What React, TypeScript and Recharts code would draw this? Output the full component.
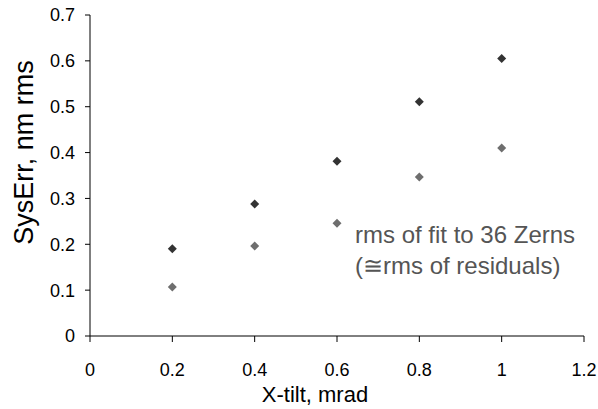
import { ScatterChart, Scatter, XAxis, YAxis } from 'recharts';

const xTicks = [0, 0.2, 0.4, 0.6, 0.8, 1, 1.2];
const yTicks = [0, 0.1, 0.2, 0.3, 0.4, 0.5, 0.6, 0.7];

const tiltX = [0.2, 0.4, 0.6, 0.8, 1.0];
const sysErr = [0.19, 0.288, 0.381, 0.511, 0.605];
const fitRms = [0.107, 0.196, 0.246, 0.347, 0.41];

const DARK = '#333333';
const LIGHT = '#6e6e6e';

const sysData = tiltX.map((x, i) => ({ x, y: sysErr[i] }));
const fitData = tiltX.map((x, i) => ({ x, y: fitRms[i] }));

const font = '"Liberation Sans", Arial, sans-serif';

function Diamond(color: string) {
  return (props: any) => {
    const { cx, cy } = props;
    const r = 4.5;
    return (
      <polygon
        points={`${cx},${cy - r} ${cx + r},${cy} ${cx},${cy + r} ${cx - r},${cy}`}
        fill={color}
      />
    );
  };
}

// text label for the lower (light) series, sits beside its 0.6 point
function Note() {
  return (
    <div style={{ position: 'absolute', left: 355, top: 219, width: 243, fontFamily: font, color: '#555', fontSize: 24, lineHeight: '31px', whiteSpace: 'nowrap' }}>
      <div>rms of fit to 36 Zerns</div>
      <div>(≅rms of residuals)</div>
    </div>
  );
}

function YTitle(props: any) {
  const { viewBox } = props;
  const y = viewBox.y + viewBox.height / 2 - 23;
  return (
    <text x={33} y={y} transform={`rotate(-90, 33, ${y})`} textAnchor="middle" fill="#000" fontSize={27} fontFamily={font}>
      SysErr, nm rms
    </text>
  );
}

function XTitle(props: any) {
  const { viewBox } = props;
  const x = viewBox.x + viewBox.width / 2 - 22;
  return (
    <text x={x} y={402} textAnchor="middle" fill="#000" fontSize={22} fontFamily={font}>
      X-tilt, mrad
    </text>
  );
}

export default function App() {
  return (
    <div style={{ position: 'absolute', left: 0, top: 0, width: 598, height: 409, background: '#fff' }}>
      <ScatterChart width={598} height={409} margin={{ top: 15, right: 14, bottom: 0, left: 0 }}>
        <XAxis
          type="number"
          dataKey="x"
          domain={[0, 1.2]}
          ticks={xTicks}
          height={73}
          tickSize={6}
          tickMargin={21}
          stroke="#000"
          tick={{ fill: '#000', fontSize: 18, fontFamily: font }}
          tickFormatter={(v) => String(v)}
          label={<XTitle />}
        />
        <YAxis
          type="number"
          dataKey="y"
          domain={[0, 0.7]}
          ticks={yTicks}
          width={90}
          tickSize={5}
          tickMargin={10}
          stroke="#000"
          tick={{ fill: '#000', fontSize: 18, fontFamily: font }}
          tickFormatter={(v) => String(v)}
          label={<YTitle />}
        />
        <Scatter data={sysData} shape={Diamond(DARK)} isAnimationActive={false} />
        <Scatter data={fitData} shape={Diamond(LIGHT)} isAnimationActive={false} />
      </ScatterChart>
      <Note />
    </div>
  );
}
